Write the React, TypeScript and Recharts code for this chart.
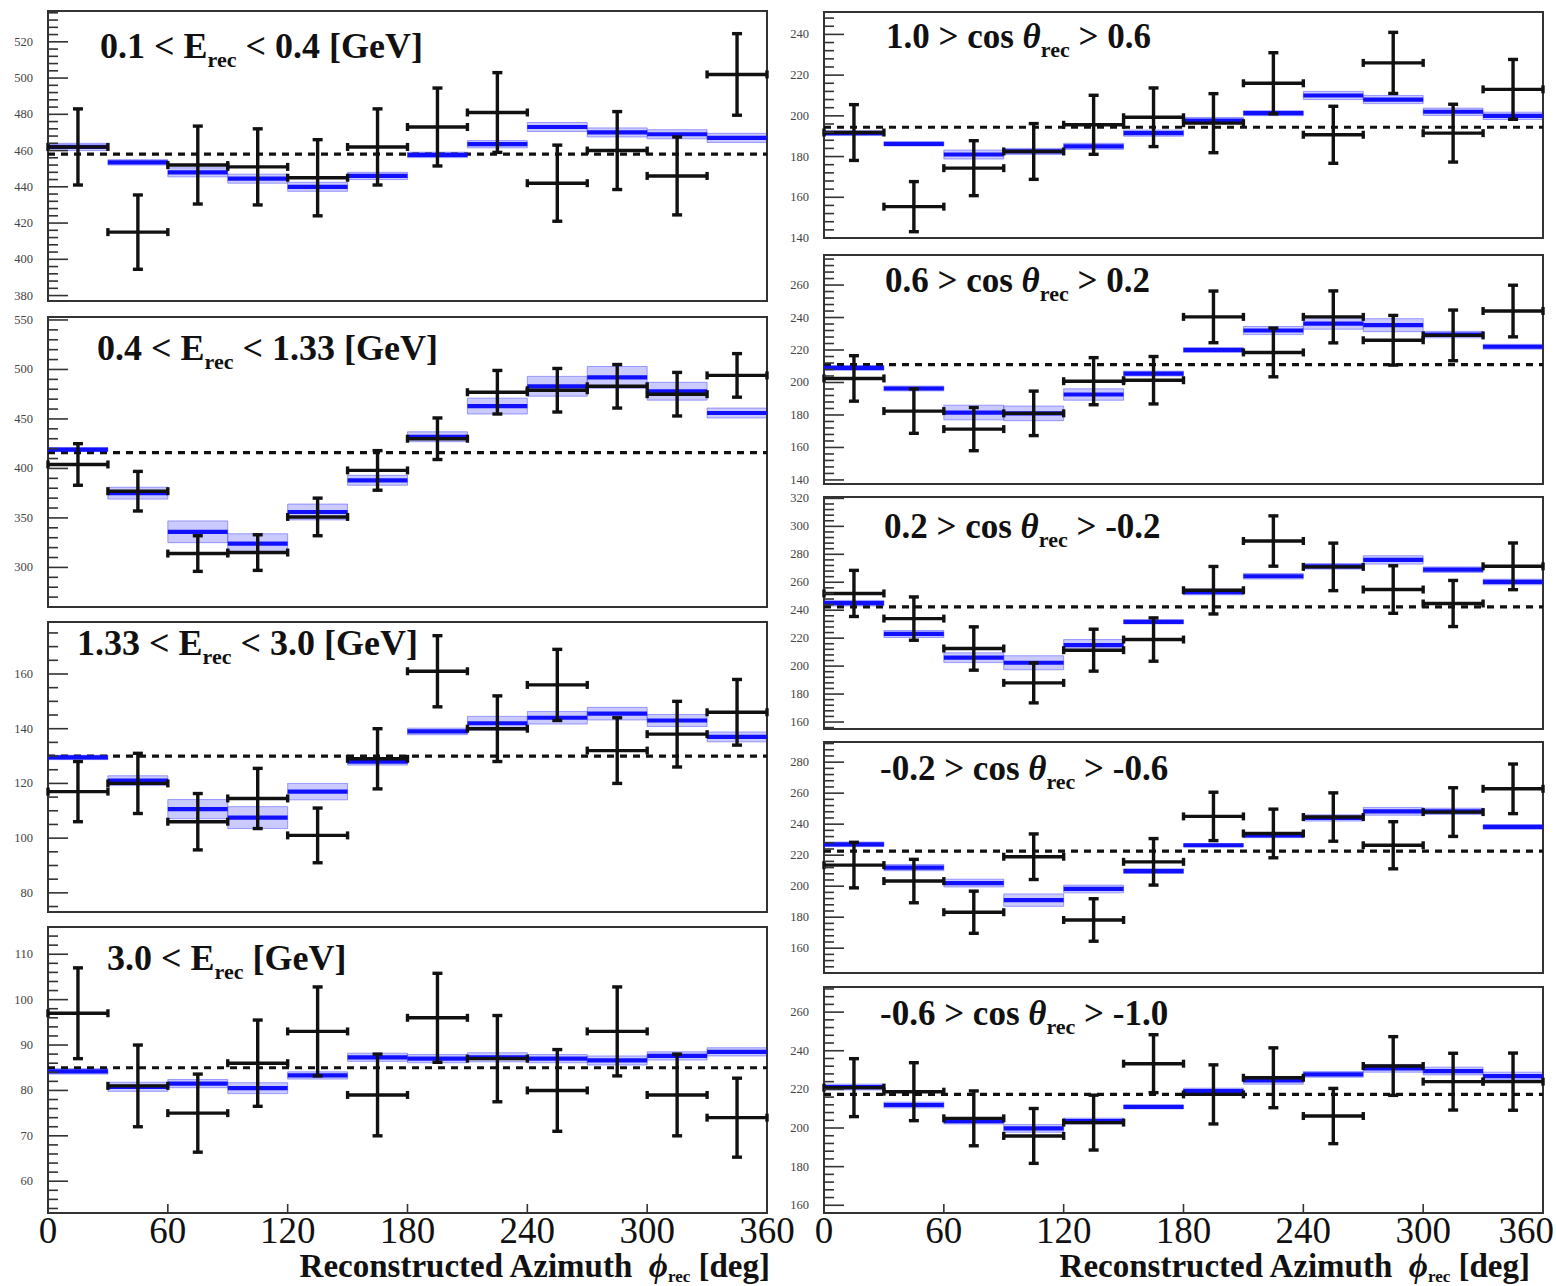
import React from "react";
import {
  ComposedChart,
  XAxis,
  YAxis,
  Scatter,
  ErrorBar,
  ReferenceLine,
  ReferenceArea,
} from "recharts";

// ---------------- DATA ----------------
const phiCenters = [15, 45, 75, 105, 135, 165, 195, 225, 255, 285, 315, 345];
const binHalfWidth = 15;
const phiTicks = [0, 60, 120, 180, 240, 300, 360];

// Energy bins (left column)
const e1Data = [462, 415, 452, 451, 445, 462, 473, 481, 442, 460, 446, 502];
const e1Err = [21, 20.5, 21.5, 21, 21, 21, 21.5, 22, 21, 21.5, 21.5, 22.5];
const e1Mc = [462, 453.5, 448, 444.5, 440, 446, 457.6, 463.5, 473, 470, 469, 467];
const e1Band = [2, 1.5, 2.5, 2.5, 2.5, 2, 1.5, 2, 2.5, 2.5, 2.5, 2.5];
const e1Avg = 458;

const e2Data = [404, 377, 314, 315, 351, 398, 430, 477, 479, 483, 475, 494];
const e2Err = [21, 20, 18, 18, 19, 20, 21, 22, 22, 22, 22, 22];
const e2Mc = [419, 375, 336, 324, 356, 388, 432, 463, 483, 492, 478, 456];
const e2Band = [2, 6, 11, 10, 8, 5, 5, 8, 10, 11, 9, 5];
const e2Avg = 416;

const e3Data = [117, 120, 106, 114.5, 101, 129, 161, 140, 156, 132, 138, 146];
const e3Err = [11, 11, 10.3, 11, 10, 11, 13, 12, 13, 12, 12, 12];
const e3Mc = [129.5, 121, 110.6, 107.5, 117, 128, 139, 142, 144, 145.5, 143, 137];
const e3Band = [0.8, 1.8, 3.5, 4, 3, 1.3, 1.2, 2.5, 2.3, 2.3, 2.2, 1.8];
const e3Avg = 130;

const e4Data = [97, 81, 75, 86, 93, 79, 96, 87, 80, 93, 79, 74];
const e4Err = [10, 9, 8.6, 9.5, 9.8, 9, 9.8, 9.5, 9, 9.8, 9, 8.7];
const e4Mc = [84.2, 80.8, 81.5, 80.5, 83.3, 87.3, 87, 87.3, 87, 86.6, 87.6, 88.5];
const e4Band = [0.6, 1, 0.9, 1.2, 0.8, 0.9, 0.9, 1, 0.9, 1, 0.9, 0.9];
const e4Avg = 85;

// cos(theta) bins (right column)
const c1Data = [191.8, 155.4, 174.3, 182.5, 195.6, 199.3, 196.4, 216, 190.7, 226, 191.5, 213];
const c1Err = [13.7, 12.3, 13.5, 13.7, 14.5, 14.4, 14.5, 15, 14, 15, 14.2, 14.7];
const c1Mc = [191.5, 186.2, 181, 182.5, 185, 191.5, 197.7, 201.3, 210, 208, 202, 200];
const c1Band = [1.2, 1, 2.2, 1.5, 1.5, 1.5, 1.5, 1.2, 2, 2, 1.8, 1.8];
const c1Avg = 194.4;

const c2Data = [202.5, 182.4, 171.3, 181, 200.8, 201.4, 240.4, 218.5, 240.4, 226, 229, 244];
const c2Err = [14, 13.7, 13.3, 13.7, 14.5, 14.6, 15.9, 15, 16, 15.3, 15.6, 15.9];
const c2Mc = [209, 196.3, 181.5, 181, 192.6, 205.5, 220, 232, 236.3, 235.3, 229.5, 222];
const c2Band = [1.5, 1.5, 4.5, 4.5, 3.5, 1.5, 1.5, 2.5, 3.5, 4, 2, 1.5];
const c2Avg = 211;

const c3Data = [252, 234, 212.6, 188, 211.4, 219, 254.3, 289.5, 271, 254.8, 244.8, 271.4];
const c3Err = [16.5, 15.5, 15.5, 14.3, 15, 15.5, 17, 18, 17, 17, 16.5, 16.7];
const c3Mc = [245, 223, 206, 202.4, 215, 231.7, 253, 264.3, 271.4, 276, 269, 260.2];
const c3Band = [2, 2.5, 3.5, 5, 4, 1.5, 2, 2, 2, 3, 2, 2];
const c3Avg = 242.4;

const c4Data = [213.6, 203.3, 183.2, 219, 178.2, 215.7, 245, 234, 244.6, 226.4, 247.8, 262.8];
const c4Err = [14.7, 14, 13.6, 14.7, 13.7, 15, 15.6, 15.7, 15.6, 15.2, 15.7, 16];
const c4Mc = [227, 212, 202, 191, 198.2, 209.7, 226.4, 232.8, 244, 248.3, 248.3, 238.2];
const c4Band = [1.5, 2, 2.5, 4, 2.5, 1.5, 1, 1.5, 2, 2.5, 2, 1.5];
const c4Avg = 222.6;

const c5Data = [220.9, 218.8, 205, 195.9, 202.8, 233.3, 217.4, 226, 206.2, 232.1, 224, 224];
const c5Err = [15, 15, 14.2, 14.2, 14.2, 15, 15.3, 15.5, 14.3, 15.2, 14.7, 14.8];
const c5Mc = [221.2, 211.9, 203.6, 199.8, 203.6, 210.9, 219.1, 224.7, 227.8, 230.9, 229.5, 226.9];
const c5Band = [1.5, 1.5, 1.5, 2, 1.5, 1, 1.5, 2, 1.5, 2, 2, 2];
const c5Avg = 217.4;

// Y axis ranges and tick labels
const e1Domain = [377, 537];
const e1Ticks = [380, 400, 420, 440, 460, 480, 500, 520];
const e2Domain = [260, 553];
const e2Ticks = [300, 350, 400, 450, 500, 550];
const e3Domain = [73, 179];
const e3Ticks = [80, 100, 120, 140, 160];
const e4Domain = [53, 116];
const e4Ticks = [60, 70, 80, 90, 100, 110];
const c1Domain = [140, 251];
const c1Ticks = [140, 160, 180, 200, 220, 240];
const c2Domain = [137.5, 278.5];
const c2Ticks = [140, 160, 180, 200, 220, 240, 260];
const c3Domain = [155, 321];
const c3Ticks = [160, 180, 200, 220, 240, 260, 280, 300, 320];
const c4Domain = [144, 293];
const c4Ticks = [160, 180, 200, 220, 240, 260, 280];
const c5Domain = [156, 273];
const c5Ticks = [160, 180, 200, 220, 240, 260];

// Panel titles
const energyTitles = [
  { pre: "0.1 < E", sub: "rec", post: " < 0.4 [GeV]" },
  { pre: "0.4 < E", sub: "rec", post: " < 1.33 [GeV]" },
  { pre: "1.33 < E", sub: "rec", post: " < 3.0 [GeV]" },
  { pre: "3.0 < E", sub: "rec", post: " [GeV]" },
];
const cosTitles = [
  { pre: "1.0 > cos ", sym: "θ", sub: "rec", post: " > 0.6" },
  { pre: "0.6 > cos ", sym: "θ", sub: "rec", post: " > 0.2" },
  { pre: "0.2 > cos ", sym: "θ", sub: "rec", post: " > -0.2" },
  { pre: "-0.2 > cos ", sym: "θ", sub: "rec", post: " > -0.6" },
  { pre: "-0.6 > cos ", sym: "θ", sub: "rec", post: " > -1.0" },
];
const axisTitle = { pre: "Reconstructed Azimuth  ", sym: "ϕ", sub: "rec", post: " [deg]" };

// ---------------- STYLE / LAYOUT ----------------
const FONT = "'Liberation Serif', 'DejaVu Serif', 'Times New Roman', serif";
const Y_AXIS_W = 48;
const PLOT_W = 719;
const MC_BLUE = "#1010ff";

type Spec = {
  data: number[];
  err: number[];
  mc: number[];
  band: number[];
  avg: number;
  domain: number[];
  majors: number[];
  minorStep: number;
};

const leftSpecs: Spec[] = [
  { data: e1Data, err: e1Err, mc: e1Mc, band: e1Band, avg: e1Avg, domain: e1Domain, majors: e1Ticks, minorStep: 4 },
  { data: e2Data, err: e2Err, mc: e2Mc, band: e2Band, avg: e2Avg, domain: e2Domain, majors: e2Ticks, minorStep: 10 },
  { data: e3Data, err: e3Err, mc: e3Mc, band: e3Band, avg: e3Avg, domain: e3Domain, majors: e3Ticks, minorStep: 5 },
  { data: e4Data, err: e4Err, mc: e4Mc, band: e4Band, avg: e4Avg, domain: e4Domain, majors: e4Ticks, minorStep: 2 },
];
const rightSpecs: Spec[] = [
  { data: c1Data, err: c1Err, mc: c1Mc, band: c1Band, avg: c1Avg, domain: c1Domain, majors: c1Ticks, minorStep: 4 },
  { data: c2Data, err: c2Err, mc: c2Mc, band: c2Band, avg: c2Avg, domain: c2Domain, majors: c2Ticks, minorStep: 4 },
  { data: c3Data, err: c3Err, mc: c3Mc, band: c3Band, avg: c3Avg, domain: c3Domain, majors: c3Ticks, minorStep: 4 },
  { data: c4Data, err: c4Err, mc: c4Mc, band: c4Band, avg: c4Avg, domain: c4Domain, majors: c4Ticks, minorStep: 4 },
  { data: c5Data, err: c5Err, mc: c5Mc, band: c5Band, avg: c5Avg, domain: c5Domain, majors: c5Ticks, minorStep: 4 },
];

const leftFrames = [
  [11, 301],
  [317, 607],
  [622, 912],
  [927, 1213],
];
const rightFrames = [
  [12, 238],
  [255, 484],
  [497, 729],
  [742, 973],
  [987, 1213],
];
const leftTitlePos = [
  [100, 58],
  [97, 360],
  [77, 655],
  [107, 970],
];
const rightTitlePos = [
  [886, 48],
  [885, 292],
  [884, 538],
  [880, 780],
  [880, 1025],
];

function allTicks(domain: number[], step: number): number[] {
  const out: number[] = [];
  const start = Math.ceil(domain[0] / step) * step;
  for (let v = start; v <= domain[1] + 1e-9; v += step) out.push(Math.round(v * 1000) / 1000);
  return out;
}

const YTick = (props: any) => {
  const { x, y, payload, majors } = props;
  const v = payload.value;
  const isMajor = majors.includes(v);
  return (
    <g>
      <line x1={x} x2={x + (isMajor ? 20 : 10)} y1={y} y2={y} stroke="#333" strokeWidth={1.6} />
      {isMajor && (
        <text
          x={x - 15}
          y={y}
          textAnchor="end"
          dominantBaseline="central"
          fontFamily={FONT}
          fontSize={12.5}
          fill="#444"
        >
          {v}
        </text>
      )}
    </g>
  );
};

const XTick = (props: any) => {
  const { x, y, payload, showLabel, rightCol } = props;
  const v = payload.value;
  const isLast = v === 360;
  return (
    <g>
      {v !== 0 && v !== 360 && (
        <line x1={x} x2={x} y1={y} y2={y - 9} stroke="#333" strokeWidth={1.6} />
      )}
      {showLabel && (
        <text
          x={rightCol && isLast ? x + 11 : x}
          y={y + 30}
          textAnchor={rightCol && isLast ? "end" : "middle"}
          fontFamily={FONT}
          fontSize={37}
          fill="#111"
        >
          {v}
        </text>
      )}
    </g>
  );
};

function Panel({
  spec,
  left,
  frame,
  rightPad,
  bottom,
  rightCol,
}: {
  spec: Spec;
  left: number;
  frame: number[];
  rightPad: number;
  bottom: boolean;
  rightCol: boolean;
}) {
  const marginTop = 9;
  const axisH = bottom ? 48 : 0;
  const marginBottom = bottom ? 0 : 9;
  const plotH = frame[1] - frame[0];
  const height = marginTop + plotH + axisH + marginBottom;
  const width = Y_AXIS_W + PLOT_W + rightPad;

  const dataPts = phiCenters.map((phi, i) => ({
    phi,
    y: spec.data[i],
    ex: binHalfWidth,
    ey: spec.err[i],
  }));
  const mcPts = phiCenters.map((phi, i) => ({ phi, y: spec.mc[i], ex: binHalfWidth }));
  const yTicks = allTicks(spec.domain, spec.minorStep);

  return (
    <div style={{ position: "absolute", left, top: frame[0] - marginTop }}>
      <ComposedChart
        width={width}
        height={height}
        margin={{ top: marginTop, right: rightPad, bottom: marginBottom, left: 0 }}
      >
        <XAxis
          type="number"
          dataKey="phi"
          domain={[0, 360]}
          ticks={phiTicks}
          interval={0}
          allowDataOverflow
          axisLine={false}
          tickLine={false}
          tickSize={0}
          tickMargin={0}
          height={axisH}
          tick={(p: any) => <XTick {...p} showLabel={bottom} rightCol={rightCol} />}
        />
        <YAxis
          type="number"
          dataKey="y"
          domain={spec.domain}
          ticks={yTicks}
          interval={0}
          allowDataOverflow
          axisLine={false}
          tickLine={false}
          tickSize={0}
          tickMargin={0}
          width={Y_AXIS_W}
          tick={(p: any) => <YTick {...p} majors={spec.majors} />}
        />
        {phiCenters.map((phi, i) => (
          <ReferenceArea
            key={"band" + i}
            x1={phi - binHalfWidth}
            x2={phi + binHalfWidth}
            y1={spec.mc[i] - spec.band[i]}
            y2={spec.mc[i] + spec.band[i]}
            fill="#8a8aff"
            fillOpacity={0.45}
            stroke="#5a5aff"
            strokeOpacity={0.55}
            strokeWidth={1}
          />
        ))}
        <ReferenceLine y={spec.avg} stroke="#111" strokeWidth={3.2} strokeDasharray="7 6" />
        <Scatter data={mcPts} dataKey="y" isAnimationActive={false} shape={() => <g />}>
          <ErrorBar dataKey="ex" direction="x" width={0} stroke={MC_BLUE} strokeWidth={4.2} />
        </Scatter>
        <Scatter data={dataPts} dataKey="y" isAnimationActive={false} shape={() => <g />}>
          <ErrorBar dataKey="ey" direction="y" width={5} stroke="#111" strokeWidth={3.4} />
          <ErrorBar dataKey="ex" direction="x" width={4} stroke="#111" strokeWidth={3.4} />
        </Scatter>
        <ReferenceArea
          x1={0}
          x2={360}
          y1={spec.domain[0]}
          y2={spec.domain[1]}
          fill="none"
          stroke="#333"
          strokeWidth={2}
        />
      </ComposedChart>
    </div>
  );
}

function Title({
  t,
  x,
  y,
  size,
  anchor,
  subScale = 0.62,
  dropScale = 0.26,
}: {
  t: { pre: string; sym?: string; sub: string; post: string };
  x: number;
  y: number;
  size: number;
  anchor?: string;
  subScale?: number;
  dropScale?: number;
}) {
  const subSize = Math.round(size * subScale);
  const drop = Math.round(size * dropScale);
  return (
    <text
      x={x}
      y={y}
      fontFamily={FONT}
      fontWeight="bold"
      fontSize={size}
      fill="#111"
      textAnchor={anchor || "start"}
      style={{ whiteSpace: "pre" }}
    >
      <tspan>{t.pre}</tspan>
      {t.sym && <tspan fontStyle="italic">{t.sym}</tspan>}
      <tspan fontSize={subSize} dy={drop}>
        {t.sub}
      </tspan>
      <tspan dy={-drop}>{t.post}</tspan>
    </text>
  );
}

export default function App() {
  return (
    <div
      style={{
        position: "absolute",
        left: 0,
        top: 0,
        width: 1556,
        height: 1286,
        background: "#fff",
        overflow: "hidden",
      }}
    >
      {leftSpecs.map((s, i) => (
        <Panel
          key={"l" + i}
          spec={s}
          left={0}
          frame={leftFrames[i]}
          rightPad={34}
          bottom={i === leftSpecs.length - 1}
          rightCol={false}
        />
      ))}
      {rightSpecs.map((s, i) => (
        <Panel
          key={"r" + i}
          spec={s}
          left={776}
          frame={rightFrames[i]}
          rightPad={12}
          bottom={i === rightSpecs.length - 1}
          rightCol={true}
        />
      ))}
      <svg
        width={1556}
        height={1286}
        style={{ position: "absolute", left: 0, top: 0, pointerEvents: "none" }}
      >
        {energyTitles.map((t, i) => (
          <Title key={"et" + i} t={t} x={leftTitlePos[i][0]} y={leftTitlePos[i][1]} size={36} />
        ))}
        {cosTitles.map((t, i) => (
          <Title key={"ct" + i} t={t} x={rightTitlePos[i][0]} y={rightTitlePos[i][1]} size={35} />
        ))}
        <Title t={axisTitle} x={770} y={1277} size={33} anchor="end" subScale={0.5} dropScale={0.15} />
        <Title t={axisTitle} x={1530} y={1277} size={33} anchor="end" subScale={0.5} dropScale={0.15} />
      </svg>
    </div>
  );
}
